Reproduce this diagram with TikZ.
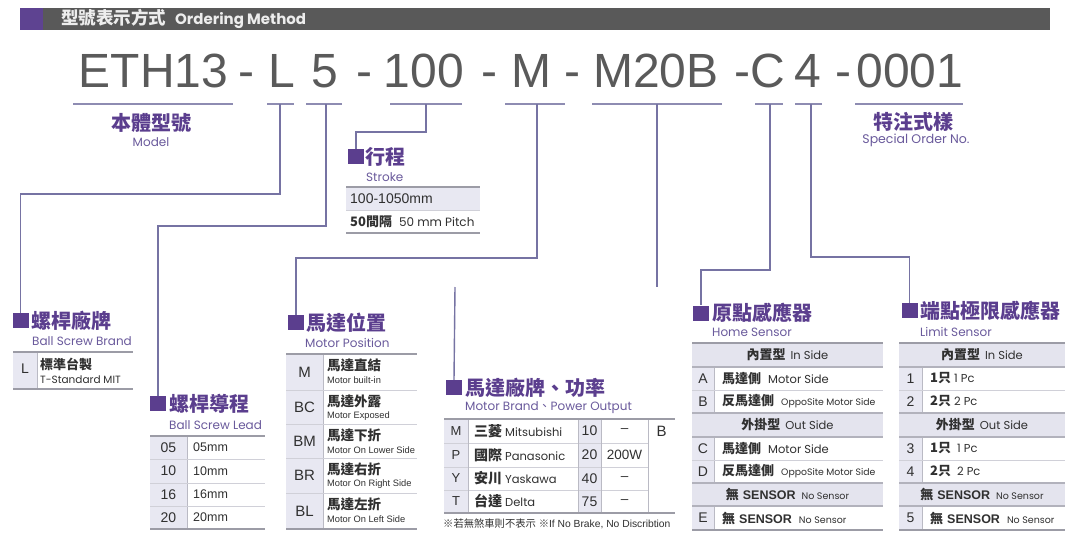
\documentclass[tikz,border=0pt]{standalone}
\usepackage{fontspec}
\setmainfont{Liberation Sans}
\newfontfamily\cjk{Noto Sans CJK TC}
\newfontfamily\pop{Poppins}
\newcommand\myfs[1]{\fontsize{#1}{#1}\selectfont}
\definecolor{purp}{HTML}{5B3E8E}
\definecolor{purp2}{HTML}{6A5A9C}
\definecolor{barc}{HTML}{595959}
\definecolor{barpurp}{HTML}{5E4391}
\definecolor{bartxt}{HTML}{EDEDED}
\definecolor{bigc}{HTML}{5A5A5A}
\definecolor{ulc}{HTML}{8E8CB2}
\definecolor{connc}{HTML}{7673A3}
\definecolor{txt}{HTML}{303030}
\definecolor{keybg}{HTML}{E8E8F2}
\definecolor{hdrbg}{HTML}{E4E4EE}
\definecolor{rulek}{HTML}{9C9CA6}
\definecolor{rulem}{HTML}{B2B2BC}
\definecolor{rulet}{HTML}{D0D0D8}
\definecolor{rulev}{HTML}{BABAC4}
\newcommand\senstab[3]{%
  \fill[hdrbg] (#1,343) rectangle (#3,367);
  \fill[hdrbg] (#1,413) rectangle (#3,437);
  \fill[hdrbg] (#1,483) rectangle (#3,506);
  \fill[keybg] (#1,367) rectangle (#2,413);
  \fill[keybg] (#1,437) rectangle (#2,483);
  \fill[keybg] (#1,506) rectangle (#2,530);
  \draw[rkv] (#2,367) -- (#2,413) (#2,437) -- (#2,483) (#2,506) -- (#2,530);
  \draw[rkthin] (#1,390) -- (#3,390) (#1,460) -- (#3,460);
  \draw[rkmid] (#1,367) -- (#3,367) (#1,413) -- (#3,413) (#1,437) -- (#3,437) (#1,483) -- (#3,483) (#1,506) -- (#3,506);
  \draw[rkthick] (#1,343) -- (#3,343) (#1,530) -- (#3,530);
}
\newcommand\cj[2]{{\cjk\bfseries\myfs{#1}#2}}
\newcommand\pp[2]{{\pop\myfs{#1}#2}}
\begin{document}
\begin{tikzpicture}[x=1pt,y=-1pt,
  conn/.style={draw=connc, line width=1.4pt},
  uline/.style={draw=ulc, line width=1.4pt},
  sqr/.style={fill=purp, inner sep=0, minimum width=16pt, minimum height=15pt},
  ttl/.style={anchor=west, inner sep=0, text=purp, font=\cjk\bfseries\myfs{20}},
  subt/.style={anchor=west, inner sep=0, text=purp2, font=\pop\myfs{12}},
  bigtxt/.style={anchor=base, inner sep=0, text=bigc, font=\myfs{48}},
  keytxt/.style={inner sep=0, text=txt, font=\myfs{14}},
  valtxt/.style={anchor=west, inner sep=0, text=txt, font=\myfs{12.5}},
  cjkval/.style={anchor=west, inner sep=0, text=txt, font=\cjk\bfseries\myfs{13}},
  engval/.style={anchor=west, inner sep=0, text=txt, font=\myfs{9.3}},
  hdrtxt/.style={inner sep=0, text=txt},
  rowtxt/.style={anchor=west, inner sep=0, text=txt},
  rkthick/.style={draw=rulek, line width=1.6pt},
  rkmid/.style={draw=rulem, line width=1.2pt},
  rkthin/.style={draw=rulet, line width=0.8pt},
  rkv/.style={draw=rulev, line width=0.8pt},
]
\useasboundingbox (0,0) rectangle (1081,543);
\fill[white] (0,0) rectangle (1081,543);

% header bar
\node[fill=barc, inner sep=0, minimum width=1030pt, minimum height=22pt, anchor=north west] (bar) at (20,8) {};
\node[fill=barpurp, inner sep=0, minimum width=23pt, minimum height=22pt, anchor=north west] (barsq) at (20,8) {};
\node[anchor=west, inner sep=0, text=bartxt] (bartitle) at (61,19) {\cj{17.5}{型號表示方式}\hspace{9pt}{\pop\bfseries\myfs{15}Ordering Method}};

% big code
\node[bigtxt] (pETH) at (153.5,87) {ETH13};
\node[bigtxt] (d1) at (246.5,87) {-};
\node[bigtxt] (pL) at (281.5,87) {L};
\node[bigtxt] (p5) at (324.5,87) {5};
\node[bigtxt] (d2) at (364,87) {-};
\node[bigtxt] (p100) at (424,87) {100};
\node[bigtxt] (d3) at (489,87) {-};
\node[bigtxt] (pM) at (531,87) {M};
\node[bigtxt] (d4) at (572.5,87) {-};
\node[bigtxt] (pM20B) at (656,87) {M20B};
\node[bigtxt] (d5) at (742,87) {-};
\node[bigtxt] (pC) at (768,87) {C};
\node[bigtxt] (p4) at (807.5,87) {4};
\node[bigtxt] (d6) at (843,87) {-};
\node[bigtxt] (p0001) at (910,87) {0001};

% underlines
\draw[uline] (73,104) -- (233,104);
\draw[uline] (267,104) -- (294,104);
\draw[uline] (306,104) -- (342,104);
\draw[uline] (390,104) -- (462,104);
\draw[uline] (505,104) -- (565,104);
\draw[uline] (592,104) -- (722,104);
\draw[uline] (755,104) -- (783,104);
\draw[uline] (795,104) -- (822,104);
\draw[uline] (855,104) -- (963,104);
\coordinate (cL) at (280,104);
\coordinate (c5) at (326,104);
\coordinate (c100) at (426,104);
\coordinate (cM) at (537,104);
\coordinate (cM20B) at (657,104);
\coordinate (cC) at (770,104);
\coordinate (c4) at (811,104);

% model / special order
\node[inner sep=0, text=purp, font=\cjk\bfseries\myfs{20}] (model) at (151,123) {本體型號};
\node[inner sep=0, text=purp2, font=\pop\myfs{12}] (modele) at (151,142) {Model};
\node[inner sep=0, text=purp, font=\cjk\bfseries\myfs{20}] (spec) at (913,122) {特注式樣};
\node[inner sep=0, text=purp2, font=\pop\myfs{12.5}] (spece) at (916,140) {Special Order No.};

% ---------- Ball screw brand
\node[sqr] (sqBrand) at (20.5,320.5) {};
\node[ttl] (tBrand) at (31,321) {螺桿廠牌};
\node[subt] (sBrand) at (32,341) {Ball Screw Brand};
\fill[keybg] (13,352) rectangle (37,389);
\draw[rkv] (37,352) -- (37,389);
\draw[rkthick] (13,352) -- (133,352) (13,389) -- (133,389);
\node[keytxt] (kL) at (25,369) {L};
\node[cjkval] (vL1) at (40,364) {標準台製};
\node[rowtxt, font=\pop\myfs{10.5}] (vL2) at (40,380) {T-Standard MIT};

% ---------- Ball screw lead
\node[sqr] (sqLead) at (158,403.5) {};
\node[ttl] (tLead) at (169,404) {螺桿導程};
\node[subt] (sLead) at (169,425) {Ball Screw Lead};
\fill[keybg] (150,436) rectangle (187,529);
\draw[rkv] (187,436) -- (187,529);
\draw[rkthin] (150,459) -- (265,459) (150,483) -- (265,483) (150,506) -- (265,506);
\draw[rkthick] (150,436) -- (265,436) (150,529) -- (265,529);
\foreach \ry/\rk [count=\i] in {447.5/05, 471/10, 494.5/16, 517.5/20}{
  \node[keytxt] (ldk\i) at (168.5,\ry) {\rk};
  \node[valtxt] (ldv\i) at (193,\ry) {\rk mm};
}

% ---------- Stroke
\node[sqr] (sqStroke) at (356,156.5) {};
\node[ttl] (tStroke) at (365,157) {行程};
\node[subt] (sStroke) at (366,177) {Stroke};
\fill[keybg] (346,187) rectangle (480,210);
\draw[rkthin] (346,210) -- (480,210);
\draw[rkthick] (346,187) -- (480,187) (346,233) -- (480,233);
\node[rowtxt, font=\myfs{14}] (st1) at (350,198.5) {100-1050mm};
\node[rowtxt] (st2) at (350,221.5) {\cj{13}{50間隔}\hspace{7pt}\pp{12}{50 mm Pitch}};

% ---------- Motor position
\node[sqr] (sqPos) at (296,322.5) {};
\node[ttl] (tPos) at (306,323) {馬達位置};
\node[subt] (sPos) at (305,343) {Motor Position};
\fill[keybg] (286,354) rectangle (323,529);
\draw[rkv] (323,354) -- (323,529);
\draw[rkthin] (286,390) -- (417,390) (286,424) -- (417,424) (286,458) -- (417,458) (286,493) -- (417,493);
\draw[rkthick] (286,354) -- (417,354) (286,529) -- (417,529);
\foreach \ry/\rb/\rk/\rc/\re [count=\i] in {354/390/M/馬達直結/Motor built-in, 390/424/BC/馬達外露/Motor Exposed, 424/458/BM/馬達下折/Motor On Lower Side, 458/493/BR/馬達右折/Motor On Right Side, 493/529/BL/馬達左折/Motor On Left Side}{
  \node[keytxt, font=\myfs{15}] (mpk\i) at (304.5,{(\ry+\rb)/2}) {\rk};
  \node[cjkval, font=\cjk\bfseries\myfs{13.5}] (mpc\i) at (327,\ry+11.5) {\rc};
  \node[engval] (mpe\i) at (327,\ry+26.5) {\re};
}

% ---------- Motor brand / power
\node[sqr] (sqMotor) at (454,387.5) {};
\node[ttl] (tMotor) at (465,388) {馬達廠牌、功率};
\node[subt] (sMotor) at (465,408) {Motor Brand{\cjk 、}Power Output};
\fill[keybg] (444,419) rectangle (468,513);
\fill[keybg] (578,419) rectangle (601,513);
\draw[rkthin] (444,443) -- (648,443) (444,467) -- (648,467) (444,490) -- (648,490);
\draw[rkv] (468,419) -- (468,513) (578,419) -- (578,513) (601,419) -- (601,513) (648,419) -- (648,513);
\draw[rkthick] (444,419) -- (675,419) (444,513) -- (675,513);
\foreach \ry/\rk/\rc/\re/\rn/\rp [count=\i] in {431/M/三菱/Mitsubishi/10/–, 455/P/國際/Panasonic/20/200W, 478.5/Y/安川/Yaskawa/40/–, 501.5/T/台達/Delta/75/–}{
  \node[keytxt, font=\myfs{13}] (mbk\i) at (456,\ry) {\rk};
  \node[rowtxt] (mbn\i) at (474,\ry) {\cj{14}{\rc}\hspace{3pt}\pp{11.5}{\re}};
  \node[keytxt, font=\myfs{14}] (mbp\i) at (589.5,\ry) {\rn};
  \node[keytxt, font=\myfs{13.5}] (mbw\i) at (624.5,\ry) {\rp};
}
\node[keytxt, font=\myfs{15}] (mbB) at (661.5,431) {B};
\node[rowtxt, font=\myfs{10.3}] (mbnote) at (443,523.5) {{\cjk ※若無煞車則不表示} {\cjk ※}If No Brake, No Discribtion};

% ---------- Home sensor
\node[sqr] (sqHome) at (701,313) {};
\node[ttl] (tHome) at (712,313) {原點感應器};
\node[subt] (sHome) at (712,332) {Home Sensor};
\senstab{692}{714}{883}
\node[hdrtxt] (hmh1) at (787.5,355) {\cj{13}{內置型}\hspace{5pt}\pp{11.5}{In Side}};
\node[hdrtxt] (hmh2) at (787.5,425) {\cj{13}{外掛型}\hspace{5pt}\pp{11.5}{Out Side}};
\node[hdrtxt] (hmh3) at (787.5,494.5) {\cj{13}{無}\hspace{4pt}{\bfseries\myfs{12.5}SENSOR}\hspace{6pt}\pp{9.5}{No Sensor}};
\node[keytxt] (hmkA) at (703,378.5) {A};
\node[keytxt] (hmkB) at (703,401.5) {B};
\node[keytxt] (hmkC) at (703,448.5) {C};
\node[keytxt] (hmkD) at (703,471.5) {D};
\node[keytxt] (hmkE) at (703,518) {E};
\node[rowtxt] (hmvA) at (722,378.5) {\cj{13}{馬達側}\hspace{7pt}\pp{11.5}{Motor Side}};
\node[rowtxt] (hmvB) at (722,401.5) {\cj{13}{反馬達側}\hspace{7pt}\pp{9.3}{OppoSite Motor Side}};
\node[rowtxt] (hmvC) at (722,448.5) {\cj{13}{馬達側}\hspace{7pt}\pp{11.5}{Motor Side}};
\node[rowtxt] (hmvD) at (722,471.5) {\cj{13}{反馬達側}\hspace{7pt}\pp{9.3}{OppoSite Motor Side}};
\node[rowtxt] (hmvE) at (722,518) {\cj{13}{無}\hspace{4pt}{\bfseries\myfs{12.5}SENSOR}\hspace{7pt}\pp{9.5}{No Sensor}};

% ---------- Limit sensor
\node[sqr] (sqLimit) at (909.5,310.5) {};
\node[ttl] (tLimit) at (920,311) {端點極限感應器};
\node[subt] (sLimit) at (920,332) {Limit Sensor};
\senstab{899}{922}{1065}
\node[hdrtxt] (lmh1) at (982,355) {\cj{13}{內置型}\hspace{5pt}\pp{11.5}{In Side}};
\node[hdrtxt] (lmh2) at (982,425) {\cj{13}{外掛型}\hspace{5pt}\pp{11.5}{Out Side}};
\node[hdrtxt] (lmh3) at (982,494.5) {\cj{13}{無}\hspace{4pt}{\bfseries\myfs{12.5}SENSOR}\hspace{6pt}\pp{9.5}{No Sensor}};
\node[keytxt] (lmk1) at (910.5,378.5) {1};
\node[keytxt] (lmk2) at (910.5,401.5) {2};
\node[keytxt] (lmk3) at (910.5,448.5) {3};
\node[keytxt] (lmk4) at (910.5,471.5) {4};
\node[keytxt] (lmk5) at (910.5,518) {5};
\node[rowtxt] (lmv1) at (930,378.5) {\cj{13}{1只}\hspace{3pt}\pp{11.5}{1 Pc}};
\node[rowtxt] (lmv2) at (930,401.5) {\cj{13}{2只}\hspace{3pt}\pp{11.5}{2 Pc}};
\node[rowtxt] (lmv3) at (930,448.5) {\cj{13}{1只}\hspace{6pt}\pp{11.5}{1 Pc}};
\node[rowtxt] (lmv4) at (930,471.5) {\cj{13}{2只}\hspace{6pt}\pp{11.5}{2 Pc}};
\node[rowtxt] (lmv5) at (930,518) {\cj{13}{無}\hspace{4pt}{\bfseries\myfs{12.5}SENSOR}\hspace{7pt}\pp{9.5}{No Sensor}};

% ---------- connectors
\draw[conn] (cL) -- ++(0,90) -| (sqBrand.north);
\draw[conn] (c5) -- ++(0,122) -| (sqLead.north);
\draw[conn] (c100) -- ++(0,28) -| (sqStroke.north);
\draw[conn] (cM) -- ++(0,154) -| (sqPos.north);
\coordinate (m20end) at (657,287);
\coordinate (mbstart) at (455,287);
\draw[conn] (cM20B) -- (m20end);
\draw[conn] (mbstart) -- (sqMotor.north);
\draw[conn] (cC) -- ++(0,166) -| (sqHome.north);
\draw[conn] (c4) -- ++(0,153) -| (sqLimit.north);
\end{tikzpicture}
\end{document}
